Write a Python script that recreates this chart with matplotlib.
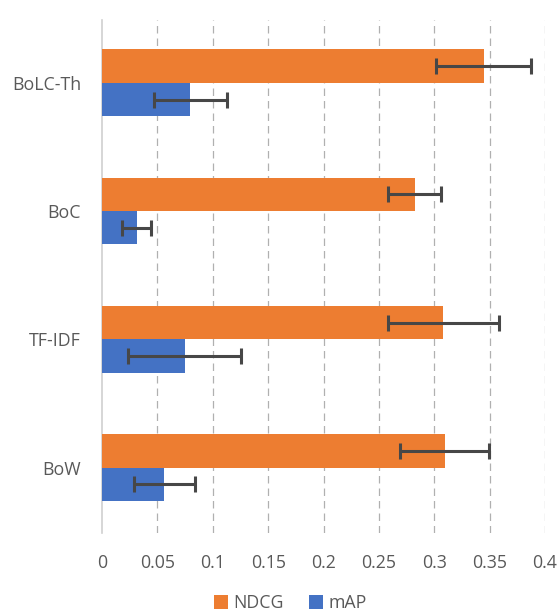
import matplotlib.pyplot as plt
import numpy as np

# methods, bottom to top
methodes = ['BoW', 'TF-IDF', 'BoC', 'BoLC-Th']
ndcg = [0.3095, 0.3083, 0.2824, 0.3445]
ndcg_err = [0.040, 0.050, 0.024, 0.043]
map_vals = [0.0561, 0.0745, 0.0314, 0.0796]
map_err = [0.0275, 0.051, 0.013, 0.033]
xticks = [0, 0.05, 0.1, 0.15, 0.2, 0.25, 0.3, 0.35, 0.4]

gris = '#595959'
plt.rcParams['font.family'] = ['Open Sans', 'DejaVu Sans']

fig = plt.figure(figsize=(5.58, 6.12), dpi=100)

ax = fig.add_axes([102 / 558, 1 - 533 / 612, 443 / 558, 513 / 612])

y = np.arange(len(methodes))
h = 0.26
err_style = dict(ecolor='#474747', elinewidth=2.2, capsize=5.5, capthick=2.2)

ax.barh(y + h / 2, ndcg, height=h, color='#ED7D31', label='NDCG',
        xerr=ndcg_err, error_kw=err_style, zorder=3)
ax.barh(y - h / 2, map_vals, height=h, color='#4472C4', label='mAP',
        xerr=map_err, error_kw=err_style, zorder=3)

ax.set_xlim(0, 0.4)
ax.set_ylim(-0.51, 3.49)
ax.set_xticks(xticks)
ax.set_xticklabels([f'{t:g}' for t in xticks])
ax.set_yticks(y)
ax.set_yticklabels(methodes)
ax.tick_params(axis='both', length=0, labelsize=12.8, labelcolor=gris)
ax.tick_params(axis='x', pad=15)
ax.tick_params(axis='y', pad=15)

ax.grid(axis='x', color='#b0b0b0', linestyle=(0, (6, 4)), linewidth=0.9, zorder=0)
for s in ['top', 'right', 'bottom']:
    ax.spines[s].set_visible(False)
ax.spines['left'].set_color('#d0d0d0')
ax.spines['left'].set_linewidth(1.2)
# pas de ligne pointillée à 0, le spine gauche la remplace
ax.xaxis.get_gridlines()[0].set_visible(False)

fig.legend(loc='center', bbox_to_anchor=(290 / 558, 1 - 603 / 612), ncol=2,
           frameon=False, handlelength=0.8, handleheight=0.8, handletextpad=0.3,
           columnspacing=1.4, fontsize=12.8, labelcolor=gris)

fig.savefig('out.png', dpi=100)
